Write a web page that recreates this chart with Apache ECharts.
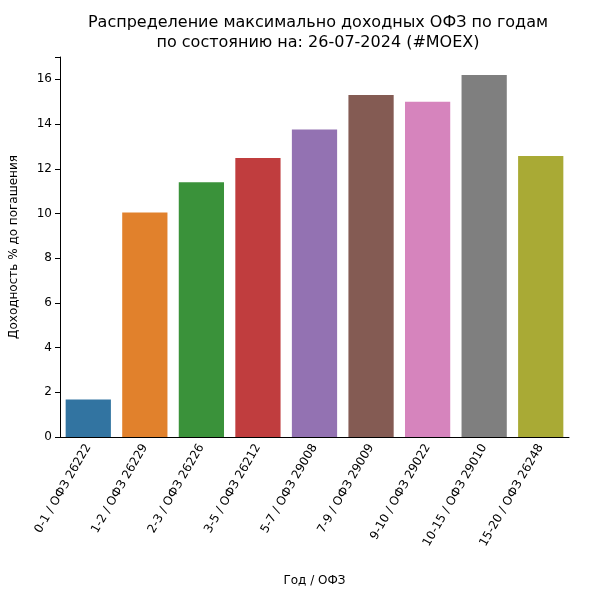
<!DOCTYPE html>
<html>
<head>
<meta charset="utf-8">
<script src="https://cdn.jsdelivr.net/npm/echarts@6/dist/echarts.min.js"></script>
<style>html,body{margin:0;padding:0;background:#fff}#chart{width:590px;height:599px}</style>
</head>
<body>
<div id="chart"></div>
<script>
// категории и доходности
var categories = ["0-1 / ОФЗ 26222", "1-2 / ОФЗ 26229", "2-3 / ОФЗ 26226", "3-5 / ОФЗ 26212", "5-7 / ОФЗ 29008",
    "7-9 / ОФЗ 29009", "9-10 / ОФЗ 29022", "10-15 / ОФЗ 29010", "15-20 / ОФЗ 26248"];
var yields = [1.68, 10.04, 11.4, 12.48, 13.76, 15.3, 15.0, 16.19, 12.57];
var colors = ['#3274a1', '#e1812c', '#3a923a', '#c03d3e', '#9372b2', '#845b53', '#d684bd', '#7f7f7f', '#a9aa35'];

var myChart = echarts.init(document.getElementById("chart"));
var option = {
    animation: false,
    title: {
        text: "Распределение максимально доходных ОФЗ по годам\nпо состоянию на: 26-07-2024 (#MOEX)",
        left: 313, top: 8, textAlign: "center",
        textStyle: { fontSize: 16, fontWeight: "normal", color: "#000", lineHeight: 20, fontFamily: "DejaVu Sans" }
    },
    grid: { left: 57, right: 21, top: 57, bottom: 162 },
    xAxis: {
        type: "category",
        data: categories,
        name: "Год / ОФЗ",
        nameLocation: "middle",
        nameGap: 138,
        nameTextStyle: { fontSize: 12, color: "#000", fontFamily: "DejaVu Sans" },
        axisLine: { lineStyle: { color: "#000" } },
        axisTick: { alignWithLabel: true, lineStyle: { color: "#000" } },
        axisLabel: { rotate: 60, interval: 0, fontSize: 12, color: "#000", fontFamily: "DejaVu Sans" }
    },
    yAxis: {
        type: "value",
        min: 0, max: 17, interval: 2,
        name: "Доходность % до погашения",
        nameLocation: "middle",
        nameGap: 40,
        nameTextStyle: { fontSize: 12, color: "#000", fontFamily: "DejaVu Sans" },
        splitLine: { show: false },
        axisLine: { show: true, lineStyle: { color: "#000" } },
        axisTick: { show: true, lineStyle: { color: "#000" } },
        axisLabel: { fontSize: 12, color: "#000", fontFamily: "DejaVu Sans",
            formatter: function (v) { return v > 16 ? "" : v; } }
    },
    series: [{
        type: "bar",
        barWidth: "80%",
        data: yields.map(function (v, i) { return { value: v, itemStyle: { color: colors[i] } }; })
    }]
};
myChart.setOption(option);
</script>
</body>
</html>
